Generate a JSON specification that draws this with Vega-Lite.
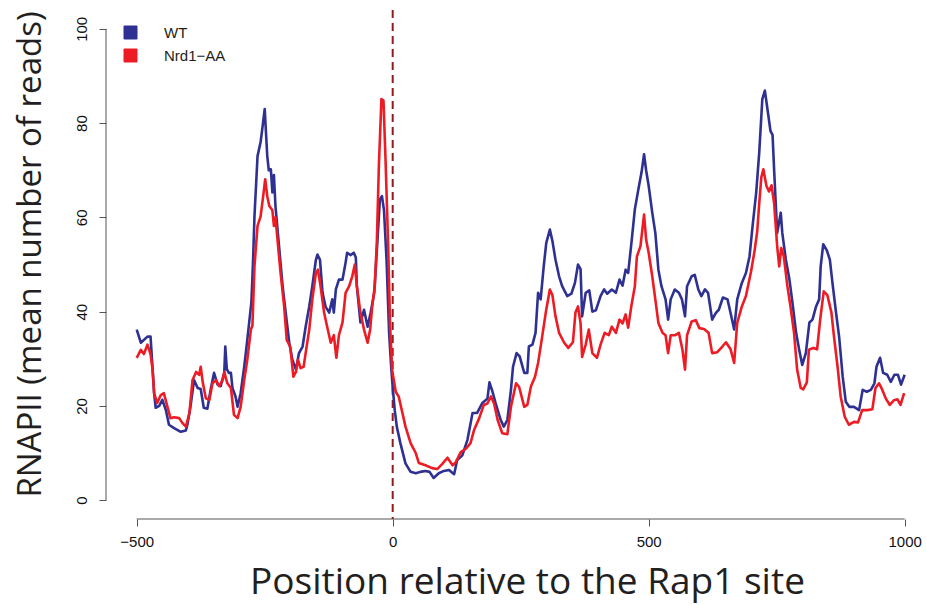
{
  "$schema": "https://vega.github.io/schema/vega-lite/v6.json",
  "width": 814,
  "height": 509,
  "autosize": {"type": "none"},
  "padding": {"left": 106, "top": 10, "right": 6, "bottom": 86},
  "background": "white",
  "config": {
    "view": {"stroke": null},
    "axis": {"grid": false, "domain": false, "tickColor": "#555555", "tickWidth": 1, "tickSize": 7, "labelColor": "#111111", "labelFont": "Liberation Sans", "labelFontSize": 14, "titleFont": "Open Sans", "titleFontWeight": "normal", "titleColor": "#231f20"}
  },
  "layer": [
    {
      "data": {"values": [{}]},
      "mark": {"type": "rule", "color": "#555555", "strokeWidth": 1},
      "encoding": {"x": {"datum": -560, "type": "quantitative"}, "y": {"datum": 0, "type": "quantitative"}, "y2": {"datum": 100}}
    },
    {
      "data": {"values": [{}]},
      "mark": {"type": "rule", "color": "#555555", "strokeWidth": 1},
      "encoding": {"y": {"datum": -4, "type": "quantitative"}, "x": {"datum": -500, "type": "quantitative"}, "x2": {"datum": 1000}}
    },
    {
      "data": {"values": [{}]},
      "mark": {"type": "rule", "color": "#931a1d", "strokeWidth": 2, "strokeDash": [8, 5]},
      "encoding": {"x": {"datum": 0, "type": "quantitative"}}
    },
    {
      "data": {"values": [
        {"sample":"WT","pos":-500,"reads":36.2},{"sample":"WT","pos":-492,"reads":33.4},{"sample":"WT","pos":-479,"reads":34.7},{"sample":"WT","pos":-473,"reads":34.7},{"sample":"WT","pos":-466,"reads":22.7},{"sample":"WT","pos":-463,"reads":19.6},{"sample":"WT","pos":-456,"reads":20.0},{"sample":"WT","pos":-450,"reads":21.3},{"sample":"WT","pos":-443,"reads":19.1},{"sample":"WT","pos":-437,"reads":16.0},{"sample":"WT","pos":-427,"reads":15.3},{"sample":"WT","pos":-414,"reads":14.5},{"sample":"WT","pos":-404,"reads":14.8},{"sample":"WT","pos":-401,"reads":16.0},{"sample":"WT","pos":-395,"reads":19.8},{"sample":"WT","pos":-388,"reads":25.5},{"sample":"WT","pos":-381,"reads":23.8},{"sample":"WT","pos":-375,"reads":23.6},{"sample":"WT","pos":-369,"reads":19.6},{"sample":"WT","pos":-362,"reads":19.4},{"sample":"WT","pos":-355,"reads":23.8},{"sample":"WT","pos":-349,"reads":27.0},{"sample":"WT","pos":-342,"reads":24.5},{"sample":"WT","pos":-336,"reads":24.2},{"sample":"WT","pos":-329,"reads":27.0},{"sample":"WT","pos":-327,"reads":32.6},{"sample":"WT","pos":-324,"reads":27.8},{"sample":"WT","pos":-320,"reads":27.0},{"sample":"WT","pos":-316,"reads":27.0},{"sample":"WT","pos":-313,"reads":23.8},{"sample":"WT","pos":-307,"reads":22.0},{"sample":"WT","pos":-303,"reads":19.8},{"sample":"WT","pos":-297,"reads":22.7},{"sample":"WT","pos":-290,"reads":28.3},{"sample":"WT","pos":-284,"reads":34.0},{"sample":"WT","pos":-276,"reads":42.0},{"sample":"WT","pos":-273,"reads":50.0},{"sample":"WT","pos":-270,"reads":60.2},{"sample":"WT","pos":-264,"reads":73.0},{"sample":"WT","pos":-258,"reads":76.0},{"sample":"WT","pos":-254,"reads":79.4},{"sample":"WT","pos":-250,"reads":83.0},{"sample":"WT","pos":-245,"reads":73.0},{"sample":"WT","pos":-242,"reads":70.0},{"sample":"WT","pos":-238,"reads":70.2},{"sample":"WT","pos":-235,"reads":65.3},{"sample":"WT","pos":-232,"reads":69.0},{"sample":"WT","pos":-229,"reads":62.4},{"sample":"WT","pos":-222,"reads":53.9},{"sample":"WT","pos":-215,"reads":45.4},{"sample":"WT","pos":-209,"reads":39.8},{"sample":"WT","pos":-202,"reads":33.4},{"sample":"WT","pos":-196,"reads":29.8},{"sample":"WT","pos":-189,"reads":27.7},{"sample":"WT","pos":-183,"reads":31.2},{"sample":"WT","pos":-176,"reads":32.6},{"sample":"WT","pos":-170,"reads":36.8},{"sample":"WT","pos":-163,"reads":41.1},{"sample":"WT","pos":-157,"reads":45.4},{"sample":"WT","pos":-150,"reads":51.0},{"sample":"WT","pos":-147,"reads":52.1},{"sample":"WT","pos":-142,"reads":51.0},{"sample":"WT","pos":-137,"reads":44.0},{"sample":"WT","pos":-131,"reads":41.0},{"sample":"WT","pos":-124,"reads":39.8},{"sample":"WT","pos":-118,"reads":42.6},{"sample":"WT","pos":-115,"reads":39.8},{"sample":"WT","pos":-111,"reads":44.7},{"sample":"WT","pos":-105,"reads":46.8},{"sample":"WT","pos":-98,"reads":46.8},{"sample":"WT","pos":-92,"reads":50.4},{"sample":"WT","pos":-89,"reads":52.5},{"sample":"WT","pos":-82,"reads":52.0},{"sample":"WT","pos":-76,"reads":52.5},{"sample":"WT","pos":-72,"reads":51.5},{"sample":"WT","pos":-70,"reads":45.4},{"sample":"WT","pos":-63,"reads":37.7},{"sample":"WT","pos":-56,"reads":40.4},{"sample":"WT","pos":-49,"reads":36.8},{"sample":"WT","pos":-43,"reads":39.8},{"sample":"WT","pos":-36,"reads":44.0},{"sample":"WT","pos":-30,"reads":54.7},{"sample":"WT","pos":-25,"reads":63.8},{"sample":"WT","pos":-21,"reads":64.5},{"sample":"WT","pos":-17,"reads":61.5},{"sample":"WT","pos":-12,"reads":51.0},{"sample":"WT","pos":-7,"reads":35.5},{"sample":"WT","pos":-3,"reads":28.3},{"sample":"WT","pos":0,"reads":24.0},{"sample":"WT","pos":4,"reads":19.1},{"sample":"WT","pos":8,"reads":15.6},{"sample":"WT","pos":15,"reads":12.1},{"sample":"WT","pos":25,"reads":7.8},{"sample":"WT","pos":35,"reads":6.0},{"sample":"WT","pos":45,"reads":5.7},{"sample":"WT","pos":54,"reads":6.0},{"sample":"WT","pos":64,"reads":6.2},{"sample":"WT","pos":72,"reads":6.0},{"sample":"WT","pos":80,"reads":4.7},{"sample":"WT","pos":90,"reads":5.7},{"sample":"WT","pos":100,"reads":6.2},{"sample":"WT","pos":110,"reads":6.4},{"sample":"WT","pos":120,"reads":5.5},{"sample":"WT","pos":126,"reads":8.5},{"sample":"WT","pos":136,"reads":9.5},{"sample":"WT","pos":146,"reads":12.8},{"sample":"WT","pos":156,"reads":18.5},{"sample":"WT","pos":165,"reads":18.5},{"sample":"WT","pos":175,"reads":20.6},{"sample":"WT","pos":185,"reads":21.5},{"sample":"WT","pos":189,"reads":25.0},{"sample":"WT","pos":195,"reads":23.0},{"sample":"WT","pos":201,"reads":20.6},{"sample":"WT","pos":211,"reads":17.0},{"sample":"WT","pos":217,"reads":15.6},{"sample":"WT","pos":224,"reads":17.0},{"sample":"WT","pos":231,"reads":23.4},{"sample":"WT","pos":235,"reads":28.3},{"sample":"WT","pos":242,"reads":31.2},{"sample":"WT","pos":248,"reads":30.5},{"sample":"WT","pos":257,"reads":27.0},{"sample":"WT","pos":263,"reads":27.0},{"sample":"WT","pos":266,"reads":32.6},{"sample":"WT","pos":273,"reads":33.0},{"sample":"WT","pos":279,"reads":35.5},{"sample":"WT","pos":284,"reads":44.0},{"sample":"WT","pos":289,"reads":42.6},{"sample":"WT","pos":295,"reads":49.6},{"sample":"WT","pos":300,"reads":54.6},{"sample":"WT","pos":307,"reads":57.4},{"sample":"WT","pos":312,"reads":55.0},{"sample":"WT","pos":318,"reads":51.0},{"sample":"WT","pos":325,"reads":47.5},{"sample":"WT","pos":331,"reads":45.4},{"sample":"WT","pos":341,"reads":43.3},{"sample":"WT","pos":349,"reads":43.8},{"sample":"WT","pos":356,"reads":46.1},{"sample":"WT","pos":362,"reads":50.0},{"sample":"WT","pos":367,"reads":49.0},{"sample":"WT","pos":370,"reads":39.0},{"sample":"WT","pos":377,"reads":44.0},{"sample":"WT","pos":384,"reads":44.5},{"sample":"WT","pos":390,"reads":40.0},{"sample":"WT","pos":397,"reads":40.3},{"sample":"WT","pos":406,"reads":43.3},{"sample":"WT","pos":413,"reads":44.7},{"sample":"WT","pos":419,"reads":43.8},{"sample":"WT","pos":428,"reads":44.7},{"sample":"WT","pos":436,"reads":44.0},{"sample":"WT","pos":443,"reads":46.8},{"sample":"WT","pos":449,"reads":45.5},{"sample":"WT","pos":455,"reads":48.9},{"sample":"WT","pos":460,"reads":48.2},{"sample":"WT","pos":467,"reads":55.3},{"sample":"WT","pos":473,"reads":61.7},{"sample":"WT","pos":480,"reads":66.0},{"sample":"WT","pos":486,"reads":69.5},{"sample":"WT","pos":491,"reads":73.4},{"sample":"WT","pos":495,"reads":70.0},{"sample":"WT","pos":500,"reads":66.7},{"sample":"WT","pos":507,"reads":61.0},{"sample":"WT","pos":513,"reads":56.7},{"sample":"WT","pos":519,"reads":48.9},{"sample":"WT","pos":525,"reads":45.4},{"sample":"WT","pos":533,"reads":42.6},{"sample":"WT","pos":538,"reads":38.3},{"sample":"WT","pos":543,"reads":42.6},{"sample":"WT","pos":551,"reads":44.7},{"sample":"WT","pos":559,"reads":44.0},{"sample":"WT","pos":565,"reads":42.6},{"sample":"WT","pos":571,"reads":39.0},{"sample":"WT","pos":575,"reads":45.4},{"sample":"WT","pos":584,"reads":47.5},{"sample":"WT","pos":590,"reads":47.8},{"sample":"WT","pos":597,"reads":44.7},{"sample":"WT","pos":603,"reads":43.3},{"sample":"WT","pos":610,"reads":44.7},{"sample":"WT","pos":616,"reads":44.0},{"sample":"WT","pos":624,"reads":38.3},{"sample":"WT","pos":631,"reads":39.7},{"sample":"WT","pos":637,"reads":40.4},{"sample":"WT","pos":645,"reads":43.0},{"sample":"WT","pos":654,"reads":42.6},{"sample":"WT","pos":660,"reads":39.7},{"sample":"WT","pos":667,"reads":36.2},{"sample":"WT","pos":673,"reads":42.6},{"sample":"WT","pos":682,"reads":46.1},{"sample":"WT","pos":690,"reads":48.2},{"sample":"WT","pos":697,"reads":51.7},{"sample":"WT","pos":703,"reads":58.2},{"sample":"WT","pos":710,"reads":65.2},{"sample":"WT","pos":716,"reads":73.8},{"sample":"WT","pos":722,"reads":85.1},{"sample":"WT","pos":727,"reads":86.9},{"sample":"WT","pos":732,"reads":83.0},{"sample":"WT","pos":738,"reads":78.3},{"sample":"WT","pos":742,"reads":77.5},{"sample":"WT","pos":745,"reads":70.2},{"sample":"WT","pos":751,"reads":56.7},{"sample":"WT","pos":758,"reads":61.0},{"sample":"WT","pos":761,"reads":56.7},{"sample":"WT","pos":768,"reads":51.0},{"sample":"WT","pos":775,"reads":46.8},{"sample":"WT","pos":781,"reads":41.8},{"sample":"WT","pos":788,"reads":35.5},{"sample":"WT","pos":794,"reads":31.9},{"sample":"WT","pos":800,"reads":28.7},{"sample":"WT","pos":807,"reads":31.2},{"sample":"WT","pos":814,"reads":37.7},{"sample":"WT","pos":820,"reads":38.3},{"sample":"WT","pos":827,"reads":41.1},{"sample":"WT","pos":833,"reads":42.6},{"sample":"WT","pos":836,"reads":49.6},{"sample":"WT","pos":841,"reads":54.3},{"sample":"WT","pos":848,"reads":53.0},{"sample":"WT","pos":854,"reads":51.0},{"sample":"WT","pos":859,"reads":46.1},{"sample":"WT","pos":866,"reads":39.8},{"sample":"WT","pos":872,"reads":34.7},{"sample":"WT","pos":879,"reads":26.2},{"sample":"WT","pos":885,"reads":20.9},{"sample":"WT","pos":892,"reads":19.8},{"sample":"WT","pos":901,"reads":19.8},{"sample":"WT","pos":911,"reads":19.1},{"sample":"WT","pos":918,"reads":23.4},{"sample":"WT","pos":926,"reads":23.0},{"sample":"WT","pos":934,"reads":23.4},{"sample":"WT","pos":941,"reads":24.8},{"sample":"WT","pos":945,"reads":28.3},{"sample":"WT","pos":952,"reads":30.2},{"sample":"WT","pos":958,"reads":27.0},{"sample":"WT","pos":966,"reads":26.6},{"sample":"WT","pos":973,"reads":25.1},{"sample":"WT","pos":980,"reads":26.6},{"sample":"WT","pos":987,"reads":26.6},{"sample":"WT","pos":993,"reads":24.5},{"sample":"WT","pos":1000,"reads":26.6},
        {"sample":"Nrd1−AA","pos":-500,"reads":30.2},{"sample":"Nrd1−AA","pos":-492,"reads":31.9},{"sample":"Nrd1−AA","pos":-486,"reads":31.0},{"sample":"Nrd1−AA","pos":-479,"reads":33.0},{"sample":"Nrd1−AA","pos":-473,"reads":31.0},{"sample":"Nrd1−AA","pos":-469,"reads":27.7},{"sample":"Nrd1−AA","pos":-466,"reads":22.7},{"sample":"Nrd1−AA","pos":-460,"reads":20.6},{"sample":"Nrd1−AA","pos":-453,"reads":22.3},{"sample":"Nrd1−AA","pos":-447,"reads":22.7},{"sample":"Nrd1−AA","pos":-440,"reads":19.8},{"sample":"Nrd1−AA","pos":-434,"reads":17.4},{"sample":"Nrd1−AA","pos":-427,"reads":17.6},{"sample":"Nrd1−AA","pos":-417,"reads":17.4},{"sample":"Nrd1−AA","pos":-411,"reads":16.4},{"sample":"Nrd1−AA","pos":-404,"reads":15.6},{"sample":"Nrd1−AA","pos":-397,"reads":18.5},{"sample":"Nrd1−AA","pos":-391,"reads":25.5},{"sample":"Nrd1−AA","pos":-384,"reads":27.2},{"sample":"Nrd1−AA","pos":-378,"reads":26.6},{"sample":"Nrd1−AA","pos":-375,"reads":28.3},{"sample":"Nrd1−AA","pos":-371,"reads":25.0},{"sample":"Nrd1−AA","pos":-365,"reads":21.6},{"sample":"Nrd1−AA","pos":-358,"reads":21.3},{"sample":"Nrd1−AA","pos":-352,"reads":24.8},{"sample":"Nrd1−AA","pos":-345,"reads":25.5},{"sample":"Nrd1−AA","pos":-339,"reads":24.2},{"sample":"Nrd1−AA","pos":-332,"reads":25.5},{"sample":"Nrd1−AA","pos":-329,"reads":27.2},{"sample":"Nrd1−AA","pos":-323,"reads":24.8},{"sample":"Nrd1−AA","pos":-316,"reads":23.8},{"sample":"Nrd1−AA","pos":-310,"reads":18.1},{"sample":"Nrd1−AA","pos":-303,"reads":17.4},{"sample":"Nrd1−AA","pos":-297,"reads":19.8},{"sample":"Nrd1−AA","pos":-290,"reads":25.5},{"sample":"Nrd1−AA","pos":-284,"reads":29.8},{"sample":"Nrd1−AA","pos":-277,"reads":36.2},{"sample":"Nrd1−AA","pos":-274,"reads":37.0},{"sample":"Nrd1−AA","pos":-270,"reads":49.6},{"sample":"Nrd1−AA","pos":-264,"reads":58.2},{"sample":"Nrd1−AA","pos":-258,"reads":60.2},{"sample":"Nrd1−AA","pos":-253,"reads":64.5},{"sample":"Nrd1−AA","pos":-249,"reads":68.1},{"sample":"Nrd1−AA","pos":-245,"reads":64.5},{"sample":"Nrd1−AA","pos":-241,"reads":62.4},{"sample":"Nrd1−AA","pos":-235,"reads":61.5},{"sample":"Nrd1−AA","pos":-232,"reads":58.2},{"sample":"Nrd1−AA","pos":-229,"reads":60.0},{"sample":"Nrd1−AA","pos":-225,"reads":55.3},{"sample":"Nrd1−AA","pos":-219,"reads":48.2},{"sample":"Nrd1−AA","pos":-212,"reads":41.1},{"sample":"Nrd1−AA","pos":-207,"reads":34.0},{"sample":"Nrd1−AA","pos":-200,"reads":32.5},{"sample":"Nrd1−AA","pos":-194,"reads":26.2},{"sample":"Nrd1−AA","pos":-189,"reads":27.2},{"sample":"Nrd1−AA","pos":-185,"reads":29.8},{"sample":"Nrd1−AA","pos":-180,"reads":28.0},{"sample":"Nrd1−AA","pos":-174,"reads":28.3},{"sample":"Nrd1−AA","pos":-170,"reads":31.2},{"sample":"Nrd1−AA","pos":-163,"reads":36.2},{"sample":"Nrd1−AA","pos":-157,"reads":42.6},{"sample":"Nrd1−AA","pos":-150,"reads":48.2},{"sample":"Nrd1−AA","pos":-146,"reads":48.9},{"sample":"Nrd1−AA","pos":-141,"reads":45.5},{"sample":"Nrd1−AA","pos":-134,"reads":39.8},{"sample":"Nrd1−AA","pos":-128,"reads":36.8},{"sample":"Nrd1−AA","pos":-121,"reads":33.4},{"sample":"Nrd1−AA","pos":-115,"reads":35.0},{"sample":"Nrd1−AA","pos":-110,"reads":30.2},{"sample":"Nrd1−AA","pos":-105,"reads":35.0},{"sample":"Nrd1−AA","pos":-98,"reads":37.7},{"sample":"Nrd1−AA","pos":-92,"reads":44.0},{"sample":"Nrd1−AA","pos":-85,"reads":45.4},{"sample":"Nrd1−AA","pos":-79,"reads":47.5},{"sample":"Nrd1−AA","pos":-74,"reads":50.0},{"sample":"Nrd1−AA","pos":-70,"reads":45.4},{"sample":"Nrd1−AA","pos":-63,"reads":39.8},{"sample":"Nrd1−AA","pos":-56,"reads":36.2},{"sample":"Nrd1−AA","pos":-49,"reads":33.4},{"sample":"Nrd1−AA","pos":-44,"reads":36.2},{"sample":"Nrd1−AA","pos":-40,"reads":41.1},{"sample":"Nrd1−AA","pos":-35,"reads":45.4},{"sample":"Nrd1−AA","pos":-31,"reads":54.7},{"sample":"Nrd1−AA","pos":-27,"reads":70.9},{"sample":"Nrd1−AA","pos":-22,"reads":85.1},{"sample":"Nrd1−AA","pos":-18,"reads":84.8},{"sample":"Nrd1−AA","pos":-14,"reads":72.3},{"sample":"Nrd1−AA","pos":-9,"reads":54.6},{"sample":"Nrd1−AA","pos":-5,"reads":36.9},{"sample":"Nrd1−AA","pos":-1,"reads":27.5},{"sample":"Nrd1−AA","pos":6,"reads":23.0},{"sample":"Nrd1−AA","pos":12,"reads":21.9},{"sample":"Nrd1−AA","pos":19,"reads":18.5},{"sample":"Nrd1−AA","pos":25,"reads":15.6},{"sample":"Nrd1−AA","pos":35,"reads":12.1},{"sample":"Nrd1−AA","pos":45,"reads":10.0},{"sample":"Nrd1−AA","pos":51,"reads":7.9},{"sample":"Nrd1−AA","pos":64,"reads":7.4},{"sample":"Nrd1−AA","pos":77,"reads":6.8},{"sample":"Nrd1−AA","pos":87,"reads":6.6},{"sample":"Nrd1−AA","pos":97,"reads":7.7},{"sample":"Nrd1−AA","pos":107,"reads":9.0},{"sample":"Nrd1−AA","pos":117,"reads":7.4},{"sample":"Nrd1−AA","pos":123,"reads":8.0},{"sample":"Nrd1−AA","pos":133,"reads":10.2},{"sample":"Nrd1−AA","pos":143,"reads":10.9},{"sample":"Nrd1−AA","pos":152,"reads":12.1},{"sample":"Nrd1−AA","pos":159,"reads":14.9},{"sample":"Nrd1−AA","pos":169,"reads":17.4},{"sample":"Nrd1−AA","pos":178,"reads":20.2},{"sample":"Nrd1−AA","pos":185,"reads":20.5},{"sample":"Nrd1−AA","pos":192,"reads":22.0},{"sample":"Nrd1−AA","pos":198,"reads":20.5},{"sample":"Nrd1−AA","pos":205,"reads":17.0},{"sample":"Nrd1−AA","pos":214,"reads":14.2},{"sample":"Nrd1−AA","pos":224,"reads":14.0},{"sample":"Nrd1−AA","pos":231,"reads":19.8},{"sample":"Nrd1−AA","pos":241,"reads":24.8},{"sample":"Nrd1−AA","pos":247,"reads":24.0},{"sample":"Nrd1−AA","pos":257,"reads":19.8},{"sample":"Nrd1−AA","pos":263,"reads":20.2},{"sample":"Nrd1−AA","pos":270,"reads":24.1},{"sample":"Nrd1−AA","pos":278,"reads":26.2},{"sample":"Nrd1−AA","pos":284,"reads":29.1},{"sample":"Nrd1−AA","pos":292,"reads":34.7},{"sample":"Nrd1−AA","pos":299,"reads":39.8},{"sample":"Nrd1−AA","pos":307,"reads":44.7},{"sample":"Nrd1−AA","pos":312,"reads":43.5},{"sample":"Nrd1−AA","pos":318,"reads":39.0},{"sample":"Nrd1−AA","pos":325,"reads":35.5},{"sample":"Nrd1−AA","pos":335,"reads":33.4},{"sample":"Nrd1−AA","pos":343,"reads":32.3},{"sample":"Nrd1−AA","pos":352,"reads":33.5},{"sample":"Nrd1−AA","pos":357,"reads":39.8},{"sample":"Nrd1−AA","pos":362,"reads":41.1},{"sample":"Nrd1−AA","pos":367,"reads":37.5},{"sample":"Nrd1−AA","pos":370,"reads":30.4},{"sample":"Nrd1−AA","pos":377,"reads":33.0},{"sample":"Nrd1−AA","pos":383,"reads":36.2},{"sample":"Nrd1−AA","pos":390,"reads":31.2},{"sample":"Nrd1−AA","pos":399,"reads":30.2},{"sample":"Nrd1−AA","pos":406,"reads":33.0},{"sample":"Nrd1−AA","pos":414,"reads":35.5},{"sample":"Nrd1−AA","pos":422,"reads":35.0},{"sample":"Nrd1−AA","pos":428,"reads":36.8},{"sample":"Nrd1−AA","pos":436,"reads":35.5},{"sample":"Nrd1−AA","pos":443,"reads":38.3},{"sample":"Nrd1−AA","pos":449,"reads":37.5},{"sample":"Nrd1−AA","pos":455,"reads":39.4},{"sample":"Nrd1−AA","pos":460,"reads":36.6},{"sample":"Nrd1−AA","pos":466,"reads":41.1},{"sample":"Nrd1−AA","pos":473,"reads":45.4},{"sample":"Nrd1−AA","pos":477,"reads":51.7},{"sample":"Nrd1−AA","pos":484,"reads":53.9},{"sample":"Nrd1−AA","pos":491,"reads":60.6},{"sample":"Nrd1−AA","pos":495,"reads":55.3},{"sample":"Nrd1−AA","pos":500,"reads":52.5},{"sample":"Nrd1−AA","pos":507,"reads":47.5},{"sample":"Nrd1−AA","pos":513,"reads":42.6},{"sample":"Nrd1−AA","pos":519,"reads":37.6},{"sample":"Nrd1−AA","pos":527,"reads":35.5},{"sample":"Nrd1−AA","pos":533,"reads":35.0},{"sample":"Nrd1−AA","pos":538,"reads":31.2},{"sample":"Nrd1−AA","pos":543,"reads":35.0},{"sample":"Nrd1−AA","pos":552,"reads":35.0},{"sample":"Nrd1−AA","pos":559,"reads":35.5},{"sample":"Nrd1−AA","pos":566,"reads":31.9},{"sample":"Nrd1−AA","pos":571,"reads":27.7},{"sample":"Nrd1−AA","pos":575,"reads":35.0},{"sample":"Nrd1−AA","pos":584,"reads":37.9},{"sample":"Nrd1−AA","pos":592,"reads":38.2},{"sample":"Nrd1−AA","pos":599,"reads":36.5},{"sample":"Nrd1−AA","pos":608,"reads":36.3},{"sample":"Nrd1−AA","pos":617,"reads":35.5},{"sample":"Nrd1−AA","pos":624,"reads":31.2},{"sample":"Nrd1−AA","pos":634,"reads":31.4},{"sample":"Nrd1−AA","pos":644,"reads":32.6},{"sample":"Nrd1−AA","pos":651,"reads":33.5},{"sample":"Nrd1−AA","pos":660,"reads":32.0},{"sample":"Nrd1−AA","pos":667,"reads":29.1},{"sample":"Nrd1−AA","pos":673,"reads":37.6},{"sample":"Nrd1−AA","pos":682,"reads":41.1},{"sample":"Nrd1−AA","pos":690,"reads":43.3},{"sample":"Nrd1−AA","pos":700,"reads":48.5},{"sample":"Nrd1−AA","pos":707,"reads":53.0},{"sample":"Nrd1−AA","pos":712,"reads":57.0},{"sample":"Nrd1−AA","pos":716,"reads":63.0},{"sample":"Nrd1−AA","pos":720,"reads":68.5},{"sample":"Nrd1−AA","pos":724,"reads":70.2},{"sample":"Nrd1−AA","pos":730,"reads":66.7},{"sample":"Nrd1−AA","pos":735,"reads":65.5},{"sample":"Nrd1−AA","pos":740,"reads":66.8},{"sample":"Nrd1−AA","pos":745,"reads":63.1},{"sample":"Nrd1−AA","pos":751,"reads":53.9},{"sample":"Nrd1−AA","pos":755,"reads":49.6},{"sample":"Nrd1−AA","pos":759,"reads":53.5},{"sample":"Nrd1−AA","pos":764,"reads":51.7},{"sample":"Nrd1−AA","pos":771,"reads":45.4},{"sample":"Nrd1−AA","pos":777,"reads":41.1},{"sample":"Nrd1−AA","pos":784,"reads":35.5},{"sample":"Nrd1−AA","pos":790,"reads":27.7},{"sample":"Nrd1−AA","pos":797,"reads":23.8},{"sample":"Nrd1−AA","pos":802,"reads":23.5},{"sample":"Nrd1−AA","pos":809,"reads":25.0},{"sample":"Nrd1−AA","pos":813,"reads":31.9},{"sample":"Nrd1−AA","pos":822,"reads":32.3},{"sample":"Nrd1−AA","pos":829,"reads":32.0},{"sample":"Nrd1−AA","pos":835,"reads":38.3},{"sample":"Nrd1−AA","pos":842,"reads":44.3},{"sample":"Nrd1−AA","pos":849,"reads":43.5},{"sample":"Nrd1−AA","pos":857,"reads":39.8},{"sample":"Nrd1−AA","pos":862,"reads":34.7},{"sample":"Nrd1−AA","pos":869,"reads":28.3},{"sample":"Nrd1−AA","pos":875,"reads":22.0},{"sample":"Nrd1−AA","pos":883,"reads":17.7},{"sample":"Nrd1−AA","pos":891,"reads":16.0},{"sample":"Nrd1−AA","pos":901,"reads":16.6},{"sample":"Nrd1−AA","pos":909,"reads":16.5},{"sample":"Nrd1−AA","pos":917,"reads":19.1},{"sample":"Nrd1−AA","pos":927,"reads":19.1},{"sample":"Nrd1−AA","pos":937,"reads":19.3},{"sample":"Nrd1−AA","pos":943,"reads":23.8},{"sample":"Nrd1−AA","pos":950,"reads":24.8},{"sample":"Nrd1−AA","pos":956,"reads":23.5},{"sample":"Nrd1−AA","pos":963,"reads":21.6},{"sample":"Nrd1−AA","pos":971,"reads":20.2},{"sample":"Nrd1−AA","pos":979,"reads":21.2},{"sample":"Nrd1−AA","pos":986,"reads":21.4},{"sample":"Nrd1−AA","pos":992,"reads":20.2},{"sample":"Nrd1−AA","pos":999,"reads":22.7}
      ]},
      "mark": {"type": "line", "strokeWidth": 2.6, "strokeJoin": "round"},
      "encoding": {
        "x": {"field": "pos", "type": "quantitative",
              "scale": {"domain": [-560, 1030], "nice": false, "zero": false},
              "axis": {"values": [-500, 0, 500, 1000], "format": "d", "title": "Position relative to the Rap1 site", "titleFontSize": 37, "titleX": 421, "titleY": 74, "titleBaseline": "alphabetic", "titleAnchor": null, "titleAlign": "center", "labelPadding": 8, "labelBaseline": "top", "labelFont": "Liberation Sans", "labelFontSize": 15, "labelFlush": false, "labelOverlap": false}},
        "y": {"field": "reads", "type": "quantitative",
              "scale": {"domain": [-4, 104], "nice": false, "zero": false},
              "axis": {"values": [0, 20, 40, 60, 80, 100], "title": "RNAPII (mean number of reads)", "titleFontSize": 33, "titleAngle": 270, "titleX": -66, "titleY": 244, "titleBaseline": "alphabetic", "titleAlign": "center", "labelAngle": 270, "labelAlign": "center", "labelBaseline": "alphabetic", "labelPadding": 13, "labelFontSize": 15, "labelFlush": false, "labelOverlap": false}},
        "color": {"field": "sample", "type": "nominal", "sort": ["WT", "Nrd1−AA"],
                  "scale": {"domain": ["WT", "Nrd1−AA"], "range": ["#2E3192", "#ED1C24"]},
                  "legend": {"title": null, "orient": "none", "legendX": 17, "legendY": 15, "padding": 0, "symbolType": "square", "symbolSize": 169, "symbolStrokeWidth": 1, "labelFont": "Liberation Sans", "labelFontSize": 15, "labelColor": "#231f20", "labelOffset": 26, "rowPadding": 6,
                             "encode": {"symbols": {"update": {"fill": {"scale": "color", "field": "value"}, "stroke": {"value": "#222222"}, "strokeWidth": {"value": 1}}}}}},
        "order": {"field": "pos", "type": "quantitative"}
      }
    }
  ]
}
